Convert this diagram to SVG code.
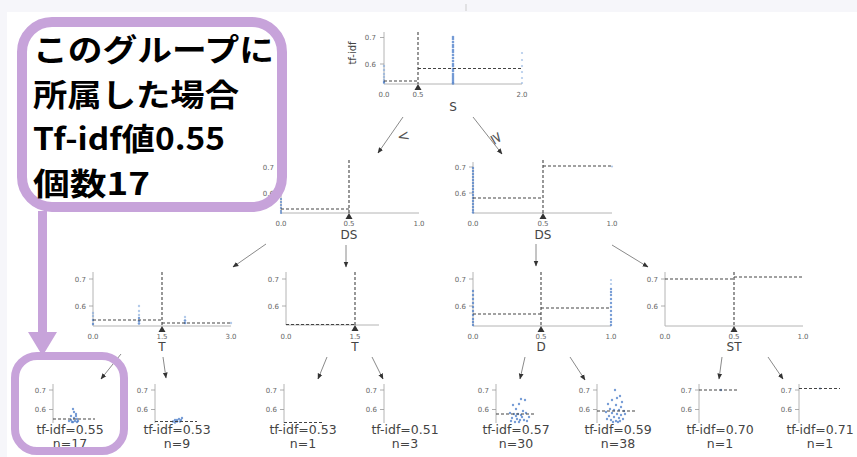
<svg xmlns="http://www.w3.org/2000/svg" width="857" height="457" viewBox="0 0 857 457">
<style>
.ax{stroke:#b4b4b4;stroke-width:1;fill:none}
.tk{stroke:#999;stroke-width:0.8}
.ds{stroke:#444;stroke-width:1.1;stroke-dasharray:3,2;fill:none}
.tl{font-family:"DejaVu Sans",sans-serif;font-size:7px;fill:#666}
.tr{text-anchor:end}
.tm{text-anchor:middle}
.xl{font-family:"DejaVu Sans",sans-serif;font-size:12px;fill:#444;text-anchor:middle}
.lf{font-family:"DejaVu Sans",sans-serif;font-size:12.5px;fill:#444;text-anchor:middle}
.tri{fill:#333}
.pt circle{fill:#4a7cc8;opacity:0.75}
.pl circle{fill:#7ea6dc;opacity:0.6}
.cn line{stroke:#8a8a8a;stroke-width:1;marker-end:url(#ah)}
.cj{font-family:"Noto Sans CJK JP",sans-serif;font-size:30.5px;font-weight:bold;fill:#000}
.pu{stroke:#c7a3da;fill:none}
</style>
<defs>
<marker id="ah" viewBox="0 0 10 10" refX="9" refY="5" markerWidth="6" markerHeight="6" orient="auto" markerUnits="userSpaceOnUse">
<path d="M0,1 L10,5 L0,9 z" fill="#333"/>
</marker>
</defs>
<rect width="857" height="457" fill="#fff"/>
<rect x="0" y="0" width="857" height="12" fill="#f6f6fa"/>
<rect x="0" y="0" width="7" height="457" fill="#f6f6fa"/>
<line x1="466" y1="4" x2="466" y2="11" stroke="#ccc"/>

<g id="connectors" class="cn">
<line x1="403" y1="117" x2="378" y2="153"/>
<line x1="473" y1="117" x2="502" y2="154"/>
<line x1="266" y1="244" x2="233" y2="267"/>
<line x1="346" y1="245" x2="346" y2="267"/>
<line x1="536" y1="244" x2="536" y2="266"/>
<line x1="612" y1="245" x2="648" y2="267"/>
<line x1="121" y1="354" x2="101" y2="379"/>
<line x1="163" y1="357" x2="166" y2="378"/>
<line x1="327" y1="357" x2="318" y2="379"/>
<line x1="372" y1="357" x2="383" y2="379"/>
<line x1="525" y1="357" x2="520" y2="379"/>
<line x1="570" y1="357" x2="585" y2="380"/>
<line x1="722" y1="357" x2="719" y2="379"/>
<line x1="768" y1="357" x2="783" y2="379"/>
</g>
<g id="edge-labels" font-family="DejaVu Sans,sans-serif" font-size="15" fill="#555">
<text x="397" y="141" transform="rotate(-12 403 136)">&lt;</text>
<text x="0" y="0" text-anchor="middle" transform="translate(497,138) rotate(60)" dy="5">≥</text>
</g>

<g id="n0">
<path class="ax" d="M384,32 V84 H522"/>
<line class="tk" x1="380" y1="37.5" x2="384" y2="37.5"/><line class="tk" x1="380" y1="64" x2="384" y2="64"/>
<text class="tl tr" x="376" y="40">0.7</text><text class="tl tr" x="376" y="66.5">0.6</text>
<text class="tl tm" x="384" y="96.5">0.0</text><text class="tl tm" x="418" y="96.5">0.5</text><text class="tl tm" x="522" y="96.5">2.0</text>
<text x="356" y="53" font-family="DejaVu Sans,sans-serif" font-size="10" fill="#444" text-anchor="middle" transform="rotate(-90 356 53)">tf-idf</text>
<text class="xl" x="453" y="111">S</text>
<g class="pl"><circle cx="384" cy="83" r="1.2"/><circle cx="384" cy="80" r="1.2"/><circle cx="384" cy="77" r="1.2"/><circle cx="384" cy="74" r="1.2"/><circle cx="384" cy="70" r="1.2"/><circle cx="384" cy="66" r="1.2"/>
<circle cx="522" cy="53" r="1.1"/><circle cx="522" cy="60" r="1.1"/><circle cx="522" cy="66" r="1.1"/><circle cx="522" cy="72" r="1.1"/><circle cx="522" cy="78" r="1.1"/><circle cx="522" cy="83" r="1.1"/></g>
<g class="pt"><circle cx="453" cy="37" r="1.3"/><circle cx="453" cy="39" r="1.3"/><circle cx="453" cy="42" r="1.3"/><circle cx="453" cy="45" r="1.3"/><circle cx="453" cy="47" r="1.3"/><circle cx="453" cy="50" r="1.3"/><circle cx="453" cy="52" r="1.3"/><circle cx="453" cy="55" r="1.3"/><circle cx="453" cy="58" r="1.3"/><circle cx="453" cy="61" r="1.3"/><circle cx="453" cy="64" r="1.3"/><circle cx="453" cy="66" r="1.3"/><circle cx="453" cy="69" r="1.3"/><circle cx="453" cy="71" r="1.3"/><circle cx="453" cy="74" r="1.3"/><circle cx="453" cy="76" r="1.3"/><circle cx="453" cy="78" r="1.3"/><circle cx="453" cy="80" r="1.3"/><circle cx="453" cy="82" r="1.3"/><circle cx="453" cy="83.5" r="1.3"/><circle cx="384" cy="82" r="1.2"/></g>
<line class="ds" x1="418" y1="32" x2="418" y2="84"/>
<line class="ds" x1="384" y1="81" x2="418" y2="81"/>
<line class="ds" x1="418" y1="68.5" x2="522" y2="68.5"/>
<path class="tri" d="M418,84 L414.5,90 H421.5 z"/>
</g>

<g id="n1">
<path class="ax" d="M281,160 V213 H419"/>
<line class="tk" x1="277" y1="167" x2="281" y2="167"/><line class="tk" x1="277" y1="193" x2="281" y2="193"/>
<text class="tl tr" x="274" y="169.5">0.7</text><text class="tl tr" x="274" y="195.5">0.6</text>
<text class="tl tm" x="281" y="225.5">0.0</text><text class="tl tm" x="349" y="225.5">0.5</text><text class="tl tm" x="419" y="225.5">1.0</text>
<text class="xl" x="349" y="239">DS</text>
<g class="pt"><circle cx="281" cy="199" r="1.1"/><circle cx="281" cy="202" r="1.1"/><circle cx="281" cy="205" r="1.1"/><circle cx="281" cy="208" r="1.1"/><circle cx="281" cy="211" r="1.1"/><circle cx="281" cy="213" r="1.1"/></g>
<line class="ds" x1="349" y1="160" x2="349" y2="213"/>
<line class="ds" x1="281" y1="209" x2="349" y2="209"/>
<path class="tri" d="M349,213 L345.5,219 H352.5 z"/>
</g>

<g id="n2">
<path class="ax" d="M473,162 V213 H612"/>
<line class="tk" x1="469" y1="167" x2="473" y2="167"/><line class="tk" x1="469" y1="193" x2="473" y2="193"/>
<text class="tl tr" x="466" y="169.5">0.7</text><text class="tl tr" x="466" y="195.5">0.6</text>
<text class="tl tm" x="473" y="225.5">0.0</text><text class="tl tm" x="543" y="225.5">0.5</text><text class="tl tm" x="612" y="225.5">1.0</text>
<text class="xl" x="543" y="239">DS</text>
<g class="pt"><circle cx="473" cy="168" r="1.2"/><circle cx="473" cy="171" r="1.2"/><circle cx="473" cy="174" r="1.2"/><circle cx="473" cy="177" r="1.2"/><circle cx="473" cy="180" r="1.2"/><circle cx="473" cy="183" r="1.2"/><circle cx="473" cy="186" r="1.2"/><circle cx="473" cy="189" r="1.2"/><circle cx="473" cy="192" r="1.2"/><circle cx="473" cy="195" r="1.2"/><circle cx="473" cy="198" r="1.2"/><circle cx="473" cy="201" r="1.2"/><circle cx="473" cy="204" r="1.2"/><circle cx="473" cy="207" r="1.2"/><circle cx="473" cy="210" r="1.2"/><circle cx="473" cy="212.5" r="1.2"/></g>
<g class="pl"><circle cx="612" cy="166.5" r="1.1"/></g>
<line class="ds" x1="543" y1="160" x2="543" y2="213"/>
<line class="ds" x1="473" y1="198" x2="543" y2="198"/>
<line class="ds" x1="543" y1="166" x2="612" y2="166"/>
<path class="tri" d="M543,213 L539.5,219 H546.5 z"/>
</g>

<g id="n3">
<path class="ax" d="M93,272 V326 H231"/>
<line class="tk" x1="89" y1="279" x2="93" y2="279"/><line class="tk" x1="89" y1="306" x2="93" y2="306"/>
<text class="tl tr" x="86" y="281.5">0.7</text><text class="tl tr" x="86" y="308.5">0.6</text>
<text class="tl tm" x="93" y="338.5">0.0</text><text class="tl tm" x="162" y="338.5">1.5</text><text class="tl tm" x="231" y="338.5">3.0</text>
<text class="xl" x="162" y="351">T</text>
<g class="pl"><circle cx="93" cy="313" r="1.2"/><circle cx="93" cy="316" r="1.2"/><circle cx="139" cy="306" r="1.2"/><circle cx="139" cy="311" r="1.2"/><circle cx="139" cy="315" r="1.2"/><circle cx="185" cy="317" r="1.2"/><circle cx="231" cy="323" r="1.2"/></g>
<g class="pt"><circle cx="93" cy="320" r="1.2"/><circle cx="93" cy="324" r="1.2"/><circle cx="139" cy="318" r="1.2"/><circle cx="139" cy="321" r="1.3"/><circle cx="139" cy="323.5" r="1.3"/><circle cx="185" cy="320.5" r="1.3"/><circle cx="185" cy="323" r="1.3"/></g>
<line class="ds" x1="162" y1="272" x2="162" y2="326"/>
<line class="ds" x1="93" y1="320" x2="162" y2="320"/>
<line class="ds" x1="162" y1="323" x2="231" y2="323"/>
<path class="tri" d="M162,326 L158.5,332 H165.5 z"/>
</g>

<g id="n4">
<path class="ax" d="M286,272 V325 H379"/>
<line class="tk" x1="282" y1="279" x2="286" y2="279"/><line class="tk" x1="282" y1="306" x2="286" y2="306"/>
<text class="tl tr" x="279" y="281.5">0.7</text><text class="tl tr" x="279" y="308.5">0.6</text>
<text class="tl tm" x="286" y="338.5">0.0</text><text class="tl tm" x="355" y="338.5">1.5</text>
<text class="xl" x="355" y="351">T</text>
<line class="ds" x1="355" y1="272" x2="355" y2="325"/>
<line class="ds" x1="286" y1="324.5" x2="355" y2="324.5"/>
<path class="tri" d="M355,325 L351.5,331 H358.5 z"/>
</g>

<g id="n5">
<path class="ax" d="M473,272 V326 H611"/>
<line class="tk" x1="469" y1="279" x2="473" y2="279"/><line class="tk" x1="469" y1="306" x2="473" y2="306"/>
<text class="tl tr" x="466" y="281.5">0.7</text><text class="tl tr" x="466" y="308.5">0.6</text>
<text class="tl tm" x="473" y="338.5">0.0</text><text class="tl tm" x="541" y="338.5">0.5</text><text class="tl tm" x="611" y="338.5">1.0</text>
<text class="xl" x="541" y="351">D</text>
<g class="pt"><circle cx="473" cy="291" r="1.2"/><circle cx="473" cy="295" r="1.2"/><circle cx="473" cy="299" r="1.2"/><circle cx="473" cy="303" r="1.2"/><circle cx="473" cy="307" r="1.2"/><circle cx="473" cy="311" r="1.2"/><circle cx="473" cy="315" r="1.2"/><circle cx="473" cy="319" r="1.2"/><circle cx="473" cy="322" r="1.2"/><circle cx="473" cy="325" r="1.2"/>
<circle cx="611" cy="289" r="1.2"/><circle cx="611" cy="292" r="1.2"/><circle cx="611" cy="295" r="1.2"/><circle cx="611" cy="299" r="1.2"/><circle cx="611" cy="303" r="1.2"/><circle cx="611" cy="307" r="1.2"/><circle cx="611" cy="311" r="1.2"/><circle cx="611" cy="315" r="1.2"/><circle cx="611" cy="319" r="1.2"/><circle cx="611" cy="322" r="1.2"/><circle cx="611" cy="325" r="1.2"/></g>
<g class="pl"><circle cx="611" cy="280" r="1.1"/><circle cx="611" cy="284" r="1.1"/></g>
<line class="ds" x1="541" y1="272" x2="541" y2="326"/>
<line class="ds" x1="473" y1="314" x2="541" y2="314"/>
<line class="ds" x1="541" y1="308" x2="611" y2="308"/>
<path class="tri" d="M541,326 L537.5,332 H544.5 z"/>
</g>

<g id="n6">
<path class="ax" d="M665,272 V326 H803"/>
<line class="tk" x1="661" y1="279" x2="665" y2="279"/><line class="tk" x1="661" y1="306" x2="665" y2="306"/>
<text class="tl tr" x="658" y="281.5">0.7</text><text class="tl tr" x="658" y="308.5">0.6</text>
<text class="tl tm" x="665" y="338.5">0.0</text><text class="tl tm" x="734" y="338.5">0.5</text><text class="tl tm" x="803" y="338.5">1.0</text>
<text class="xl" x="734" y="351">ST</text>
<line class="ds" x1="734" y1="272" x2="734" y2="326"/>
<line class="ds" x1="665" y1="279" x2="734" y2="279"/>
<line class="ds" x1="734" y1="277" x2="803" y2="277"/>
<path class="tri" d="M734,326 L730.5,332 H737.5 z"/>
</g>

<g id="l0">
<line class="ax" x1="53" y1="384" x2="53" y2="423"/>
<line class="tk" x1="49" y1="390" x2="53" y2="390"/><line class="tk" x1="49" y1="409.5" x2="53" y2="409.5"/>
<text class="tl tr" x="46" y="392.5">0.7</text><text class="tl tr" x="46" y="412">0.6</text>
<g class="pt"><circle cx="73" cy="409" r="1.2"/><circle cx="74" cy="412" r="1.2"/><circle cx="76" cy="414" r="1.2"/><circle cx="71" cy="416" r="1.2"/><circle cx="74" cy="418" r="1.2"/><circle cx="77" cy="419" r="1.2"/><circle cx="71" cy="420" r="1.2"/><circle cx="75" cy="421" r="1.2"/><circle cx="78" cy="421" r="1.2"/><circle cx="69" cy="421" r="1.2"/><circle cx="73" cy="422" r="1.2"/><circle cx="76" cy="416" r="1.2"/><circle cx="72" cy="422" r="1.2"/><circle cx="77" cy="422" r="1.2"/></g>
<line class="ds" x1="53" y1="419" x2="95" y2="419"/>
<text class="lf" x="70" y="433.5">tf-idf=0.55</text><text class="lf" x="70" y="448.2">n=17</text>
</g>
<g id="l1">
<line class="ax" x1="155" y1="384" x2="155" y2="423"/>
<line class="tk" x1="151" y1="390" x2="155" y2="390"/><line class="tk" x1="151" y1="409.5" x2="155" y2="409.5"/>
<text class="tl tr" x="148" y="392.5">0.7</text><text class="tl tr" x="148" y="412">0.6</text>
<g class="pt"><circle cx="175" cy="420" r="1.2"/><circle cx="177" cy="420" r="1.2"/><circle cx="179" cy="419" r="1.2"/><circle cx="181" cy="420" r="1.2"/><circle cx="173" cy="421.5" r="1.2"/><circle cx="177" cy="421.5" r="1.2"/><circle cx="180" cy="421.5" r="1.2"/><circle cx="175" cy="422.5" r="1.2"/><circle cx="182" cy="418" r="1.2"/></g>
<line class="ds" x1="155" y1="421.5" x2="197" y2="421.5"/>
<text class="lf" x="177" y="433.5">tf-idf=0.53</text><text class="lf" x="177" y="448.2">n=9</text>
</g>
<g id="l2">
<line class="ax" x1="284" y1="384" x2="284" y2="423"/>
<line class="tk" x1="280" y1="390" x2="284" y2="390"/><line class="tk" x1="280" y1="409.5" x2="284" y2="409.5"/>
<text class="tl tr" x="277" y="392.5">0.7</text><text class="tl tr" x="277" y="412">0.6</text>
<line class="ds" x1="284" y1="422.5" x2="324" y2="422.5"/>
<text class="lf" x="303" y="433.5">tf-idf=0.53</text><text class="lf" x="303" y="448.2">n=1</text>
</g>
<g id="l3">
<line class="ax" x1="384" y1="384" x2="384" y2="423"/>
<line class="tk" x1="380" y1="390" x2="384" y2="390"/><line class="tk" x1="380" y1="409.5" x2="384" y2="409.5"/>
<text class="tl tr" x="377" y="392.5">0.7</text><text class="tl tr" x="377" y="412">0.6</text>
<text class="lf" x="405" y="433.5">tf-idf=0.51</text><text class="lf" x="405" y="448.2">n=3</text>
</g>
<g id="l4">
<line class="ax" x1="496" y1="384" x2="496" y2="423"/>
<line class="tk" x1="492" y1="390" x2="496" y2="390"/><line class="tk" x1="492" y1="409.5" x2="496" y2="409.5"/>
<text class="tl tr" x="489" y="392.5">0.7</text><text class="tl tr" x="489" y="412">0.6</text>
<g class="pt"><circle cx="521" cy="399" r="1.2"/><circle cx="525" cy="400" r="1.2"/><circle cx="513" cy="405" r="1.2"/><circle cx="519" cy="404" r="1.2"/><circle cx="516" cy="409" r="1.2"/><circle cx="523" cy="411" r="1.2"/><circle cx="510" cy="413" r="1.2"/><circle cx="514" cy="414" r="1.2"/><circle cx="518" cy="414" r="1.2"/><circle cx="521" cy="415" r="1.2"/><circle cx="526" cy="413" r="1.2"/><circle cx="512" cy="418" r="1.2"/><circle cx="517" cy="419" r="1.2"/><circle cx="520" cy="420" r="1.2"/><circle cx="524" cy="420" r="1.2"/><circle cx="527" cy="421" r="1.2"/><circle cx="515" cy="422" r="1.2"/><circle cx="519" cy="422" r="1.2"/><circle cx="511" cy="421" r="1.2"/><circle cx="522" cy="417" r="1.2"/><circle cx="529" cy="417" r="1.2"/><circle cx="516" cy="416" r="1.2"/></g>
<line class="ds" x1="496" y1="414" x2="536" y2="414"/>
<text class="lf" x="516" y="433.5">tf-idf=0.57</text><text class="lf" x="516" y="448.2">n=30</text>
</g>
<g id="l5">
<line class="ax" x1="597" y1="384" x2="597" y2="423"/>
<line class="tk" x1="593" y1="390" x2="597" y2="390"/><line class="tk" x1="593" y1="409.5" x2="597" y2="409.5"/>
<text class="tl tr" x="590" y="392.5">0.7</text><text class="tl tr" x="590" y="412">0.6</text>
<g class="pt"><circle cx="615" cy="390" r="1.2"/><circle cx="620" cy="396" r="1.2"/><circle cx="617" cy="398" r="1.2"/><circle cx="612" cy="400" r="1.2"/><circle cx="622" cy="402" r="1.2"/><circle cx="608" cy="404" r="1.2"/><circle cx="616" cy="405" r="1.2"/><circle cx="621" cy="407" r="1.2"/><circle cx="610" cy="409" r="1.2"/><circle cx="614" cy="410" r="1.2"/><circle cx="619" cy="410" r="1.2"/><circle cx="624" cy="411" r="1.2"/><circle cx="606" cy="412" r="1.2"/><circle cx="612" cy="413" r="1.2"/><circle cx="617" cy="414" r="1.2"/><circle cx="621" cy="415" r="1.2"/><circle cx="609" cy="416" r="1.2"/><circle cx="614" cy="417" r="1.2"/><circle cx="619" cy="418" r="1.2"/><circle cx="623" cy="419" r="1.2"/><circle cx="611" cy="420" r="1.2"/><circle cx="616" cy="421" r="1.2"/><circle cx="620" cy="421" r="1.2"/><circle cx="613" cy="422" r="1.2"/><circle cx="618" cy="422" r="1.2"/><circle cx="607" cy="419" r="1.2"/><circle cx="625" cy="414" r="1.2"/></g>
<line class="ds" x1="597" y1="411" x2="637" y2="411"/>
<text class="lf" x="618" y="433.5">tf-idf=0.59</text><text class="lf" x="618" y="448.2">n=38</text>
</g>
<g id="l6">
<line class="ax" x1="699" y1="384" x2="699" y2="423"/>
<line class="tk" x1="695" y1="390" x2="699" y2="390"/><line class="tk" x1="695" y1="409.5" x2="699" y2="409.5"/>
<text class="tl tr" x="692" y="392.5">0.7</text><text class="tl tr" x="692" y="412">0.6</text>
<g class="pt"><circle cx="721" cy="390" r="1.2"/></g>
<line class="ds" x1="699" y1="390" x2="739" y2="390"/>
<text class="lf" x="720" y="433.5">tf-idf=0.70</text><text class="lf" x="720" y="448.2">n=1</text>
</g>
<g id="l7">
<line class="ax" x1="799" y1="384" x2="799" y2="423"/>
<line class="tk" x1="795" y1="390" x2="799" y2="390"/><line class="tk" x1="795" y1="409.5" x2="799" y2="409.5"/>
<text class="tl tr" x="792" y="392.5">0.7</text><text class="tl tr" x="792" y="412">0.6</text>
<g class="pl"><circle cx="820" cy="388.5" r="1.2"/></g>
<line class="ds" x1="799" y1="388.5" x2="840" y2="388.5"/>
<text class="lf" x="820" y="433.5">tf-idf=0.71</text><text class="lf" x="820" y="448.2">n=1</text>
</g>

<g id="callout">
<rect class="pu" x="22" y="22" width="260" height="185" rx="30" stroke-width="10"/>
<text class="cj" x="33" y="61" textLength="241" lengthAdjust="spacingAndGlyphs">このグループに</text>
<text class="cj" x="33" y="105.5" textLength="206" lengthAdjust="spacingAndGlyphs">所属した場合</text>
<text class="cj" x="33" y="150" textLength="192" lengthAdjust="spacingAndGlyphs">Tf-idf値0.55</text>
<text class="cj" x="33" y="194.5" textLength="117" lengthAdjust="spacingAndGlyphs">個数17</text>
</g>
<g id="callout-arrow">
<rect x="38" y="211" width="9" height="124" fill="#c7a3da"/>
<path d="M28,332 H57 L42.5,356 z" fill="#c7a3da"/>
</g>
<g id="highlight">
<rect class="pu" x="15" y="356" width="109" height="95" rx="22" stroke-width="8"/>
</g>
</svg>
